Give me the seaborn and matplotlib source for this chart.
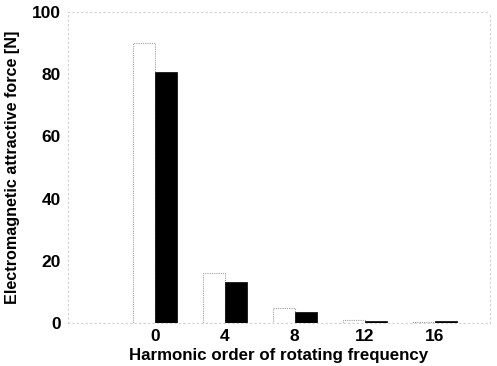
import matplotlib
matplotlib.use("Agg")
import matplotlib.pyplot as plt
import seaborn as sns
import pandas as pd

# Harmonic orders of the rotating frequency and the force amplitude per case
orders = ["0", "4", "8", "12", "16"]
force_case_a = [90.0, 16.0, 4.8, 1.0, 0.3]
force_case_b = [80.7, 13.3, 3.4, 0.8, 0.5]
case_names = ["Case A", "Case B"]
y_ticks = [0, 20, 40, 60, 80, 100]

df = pd.DataFrame({
    "order": orders * 2,
    "force": force_case_a + force_case_b,
    "case": [case_names[0]] * len(orders) + [case_names[1]] * len(orders),
})

sns.set_theme(style="white")
plt.rcParams["font.family"] = ["Liberation Sans", "DejaVu Sans"]
plt.rcParams["font.weight"] = "bold"
plt.rcParams["text.color"] = "black"
plt.rcParams["axes.labelcolor"] = "black"
plt.rcParams["xtick.color"] = "black"
plt.rcParams["ytick.color"] = "black"

fig = plt.figure(figsize=(4.97, 3.66), dpi=100)
ax = fig.add_axes([68 / 497, 43 / 366, 422 / 497, 311 / 366])

sns.barplot(
    data=df, x="order", y="force", hue="case", order=orders,
    hue_order=case_names, palette=["white", "black"], width=0.63,
    saturation=1, legend=False, ax=ax,
)

# outline the white bars with a faint dotted edge, black bars stay solid
for bar in ax.patches:
    if bar.get_facecolor()[0] > 0.5:
        bar.set_edgecolor("#a0a0a0")
        bar.set_linestyle((0, (1, 1)))
        bar.set_linewidth(0.8)
    else:
        bar.set_edgecolor("black")
        bar.set_linewidth(0.5)

ax.set_xlim(-1.24, 4.79)
ax.set_ylim(0, 100)
ax.set_yticks(y_ticks)
ax.set_yticklabels([str(t) for t in y_ticks], fontsize=12.5, fontweight="bold")
ax.set_xticks(range(len(orders)))
ax.set_xticklabels(orders, fontsize=12.5, fontweight="bold")
ax.tick_params(axis="y", length=0, pad=5)
ax.tick_params(axis="x", length=0, pad=4)

ax.set_xlabel("Harmonic order of rotating frequency", fontsize=12.2,
              fontweight="bold", labelpad=3)
ax.set_ylabel("Electromagnetic attractive force [N]", fontsize=11.6,
              fontweight="bold", labelpad=9)

for side in ["top", "right", "left", "bottom"]:
    ax.spines[side].set_color("#d0d0d0")
    ax.spines[side].set_linestyle((0, (1, 3)))
    ax.spines[side].set_linewidth(0.8)

fig.savefig("out.png", dpi=100)
